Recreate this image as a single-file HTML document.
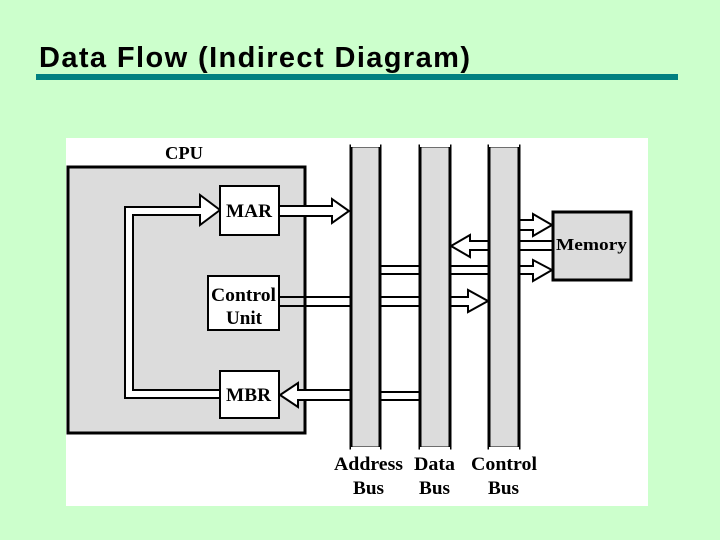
<!DOCTYPE html>
<html><head><meta charset="utf-8"><style>
body{margin:0;width:720px;height:540px;background:#ccffcc;overflow:hidden;position:relative}
.t{position:absolute;left:39px;top:43px;font:bold 29px/30px "Liberation Sans",sans-serif;color:#000;letter-spacing:1.4px}
.bar{position:absolute;left:36px;top:74px;width:642px;height:6px;background:#008080}
</style></head><body>
<div class="t">Data Flow (Indirect Diagram)</div>
<div class="bar"></div>
<svg width="720" height="540" style="position:absolute;left:0;top:0" font-family="Liberation Serif,serif" font-weight="bold">
<rect x="66" y="138" width="582" height="368" fill="#fff"/>
<text x="165" y="159" font-size="18" textLength="38" lengthAdjust="spacingAndGlyphs">CPU</text>
<rect x="68" y="167" width="237" height="266" fill="#dcdcdc" stroke="#000" stroke-width="3"/>
<g fill="#fff" stroke="#000" stroke-width="2">
<path d="M220,390 L133,390 L133,215 L200,215 L200,225 L220,210 L200,195 L200,207 L125,207 L125,398 L220,398"/>
<path d="M279,206 L332,206 L332,199 L349,211 L332,223 L332,216 L279,216 Z"/>
<path d="M350,390 L298,390 L298,383 L280,395 L298,407 L298,400 L350,400"/>
<path d="M279,297 L350,297 M279,306 L350,306"/>
<path d="M381,297 L419,297 M381,306 L419,306"/>
<path d="M451,297 L468,297 L468,290 L488,301 L468,312 L468,306 L451,306"/>
<path d="M381,392 L419,392 M381,400 L419,400"/>
<path d="M381,266 L419,266 M381,274 L419,274 M451,266 L488,266 M451,274 L488,274"/>
<path d="M520,266 L533,266 L533,260 L552,270 L533,281 L533,274 L520,274"/>
<path d="M520,220 L533,220 L533,214 L552,225 L533,236 L533,230 L520,230"/>
<path d="M488,241 L470,241 L470,235 L451,246 L470,257 L470,250 L488,250"/>
<path d="M520,241 L552,241 M520,250 L552,250"/>
</g>
<g fill="#dcdcdc" stroke="#000" stroke-width="3">
<rect x="351" y="146" width="29" height="302"/>
<rect x="420" y="146" width="30" height="302"/>
<rect x="489" y="146" width="30" height="302"/>
</g>
<rect x="351" y="144" width="29" height="3" fill="#fff"/><rect x="420" y="144" width="30" height="3" fill="#fff"/><rect x="489" y="144" width="30" height="3" fill="#fff"/>
<rect x="351" y="447" width="29" height="3" fill="#fff"/><rect x="420" y="447" width="30" height="3" fill="#fff"/><rect x="489" y="447" width="30" height="3" fill="#fff"/>
<g stroke="#000" stroke-width="2" fill="#fff">
<rect x="220" y="186" width="59" height="49"/>
<rect x="208" y="276" width="71" height="54"/>
<rect x="220" y="371" width="59" height="47"/>
</g>
<rect x="553" y="212" width="78" height="68" fill="#dcdcdc" stroke="#000" stroke-width="3"/>
<g font-size="19">
<text x="226" y="217" textLength="46" lengthAdjust="spacingAndGlyphs">MAR</text>
<text x="211" y="301" textLength="65" lengthAdjust="spacingAndGlyphs">Control</text>
<text x="226" y="324" textLength="36" lengthAdjust="spacingAndGlyphs">Unit</text>
<text x="226" y="401" textLength="45" lengthAdjust="spacingAndGlyphs">MBR</text>
<text x="556" y="250" font-size="17" textLength="71" lengthAdjust="spacingAndGlyphs">Memory</text>
<text x="334" y="470" textLength="69" lengthAdjust="spacingAndGlyphs">Address</text>
<text x="353" y="494" textLength="31" lengthAdjust="spacingAndGlyphs">Bus</text>
<text x="414" y="470" textLength="41" lengthAdjust="spacingAndGlyphs">Data</text>
<text x="419" y="494" textLength="31" lengthAdjust="spacingAndGlyphs">Bus</text>
<text x="471" y="470" textLength="66" lengthAdjust="spacingAndGlyphs">Control</text>
<text x="488" y="494" textLength="31" lengthAdjust="spacingAndGlyphs">Bus</text>
</g>
</svg>
</body></html>
